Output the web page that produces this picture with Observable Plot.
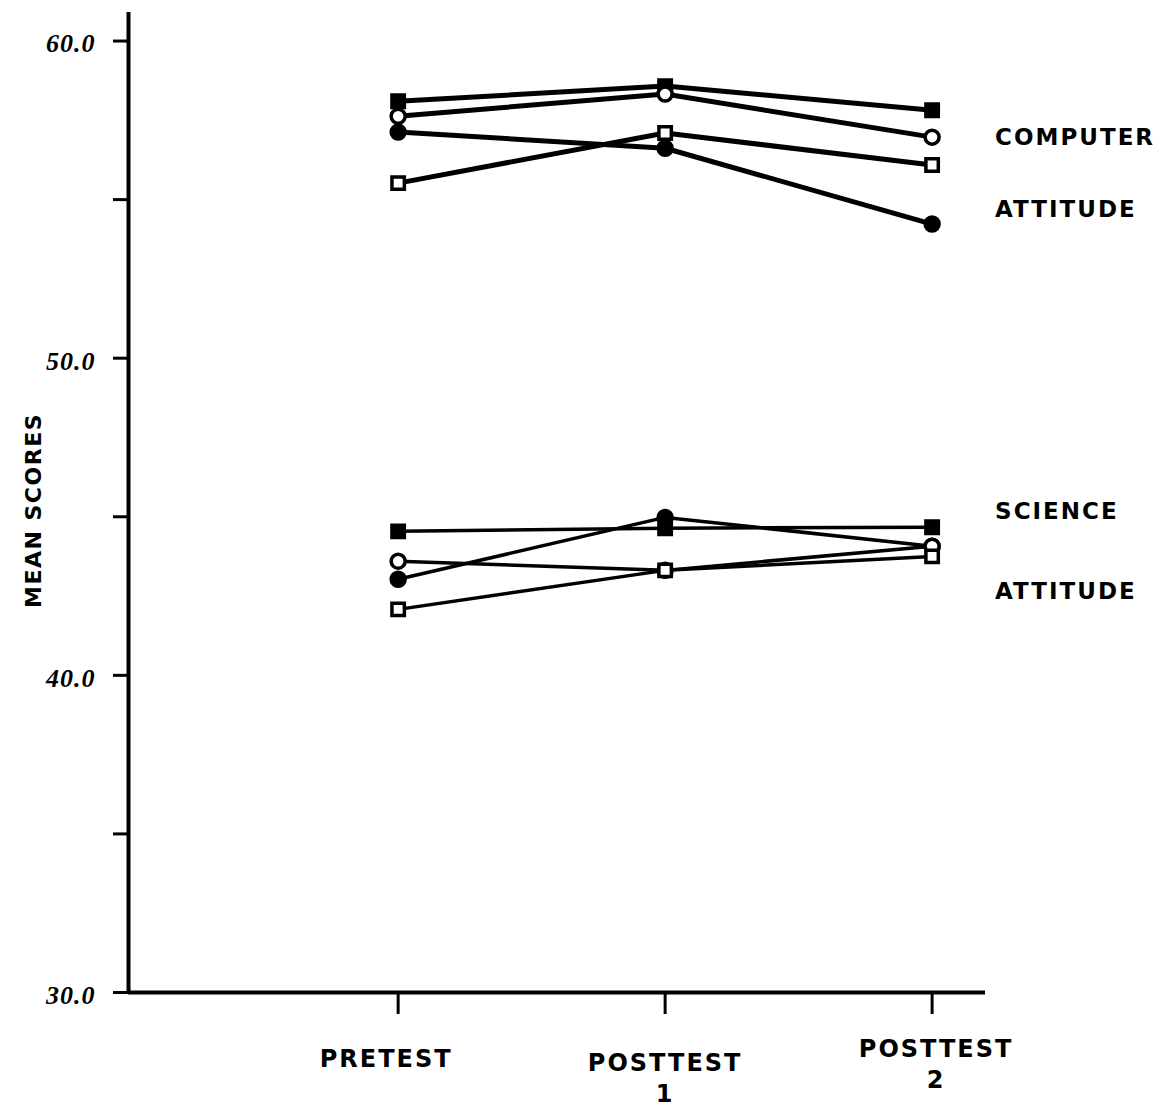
<!DOCTYPE html>
<html><head><meta charset="utf-8">
<script src="https://cdn.jsdelivr.net/npm/d3@7"></script>
<script src="https://cdn.jsdelivr.net/npm/@observablehq/plot@0.6"></script>
<style>
body{margin:0;background:#fff}
#chart svg{display:block}
.wide text{letter-spacing:2px}
.wide1 text{letter-spacing:1.5px}
.ylab text{letter-spacing:1px}
</style>
</head><body><div id="chart"></div>
<script>
// Test occasions (x = 0, 1, 2)
const phases = ["PRETEST", "POSTTEST 1", "POSTTEST 2"];
const phaseLabels = ["PRETEST", "POSTTEST\n1", "POSTTEST\n2"];

// Computer attitude groups
const computerFilledSquare = [58.10, 58.58, 57.82];
const computerOpenCircle   = [57.63, 58.33, 56.97];
const computerFilledCircle = [57.13, 56.62, 54.23];
const computerOpenSquare   = [55.52, 57.10, 56.09];

// Science attitude groups
const scienceFilledSquare = [44.54, 44.64, 44.67];
const scienceFilledCircle = [43.03, 44.98, 44.07];
const scienceOpenCircle   = [43.60, 43.31, 44.07];
const scienceOpenSquare   = [42.08, 43.31, 43.75];

const yTicks = [30, 35, 40, 45, 50, 55, 60];
const yTickLabels = [30, 40, 50, 60];

// Right-hand group labels (text, y in score units)
const groupLabelText = ["COMPUTER", "ATTITUDE", "SCIENCE", "ATTITUDE"];
const groupLabelY = [56.94, 54.70, 45.17, 42.65];

const seriesDefs = [
  {name: "computer-fs", group: "computer", symbol: "square", filled: true,  values: computerFilledSquare},
  {name: "computer-oc", group: "computer", symbol: "circle", filled: false, values: computerOpenCircle},
  {name: "computer-fc", group: "computer", symbol: "circle", filled: true,  values: computerFilledCircle},
  {name: "computer-os", group: "computer", symbol: "square", filled: false, values: computerOpenSquare},
  {name: "science-fs",  group: "science",  symbol: "square", filled: true,  values: scienceFilledSquare},
  {name: "science-fc",  group: "science",  symbol: "circle", filled: true,  values: scienceFilledCircle},
  {name: "science-oc",  group: "science",  symbol: "circle", filled: false, values: scienceOpenCircle},
  {name: "science-os",  group: "science",  symbol: "square", filled: false, values: scienceOpenSquare}
];
const rows = seriesDefs.flatMap(s => s.values.map((v, i) => ({
  series: s.name, group: s.group, symbol: s.symbol, filled: s.filled, t: i, phase: phases[i], score: v
})));
const labels = groupLabelText.map((t, i) => ({text: t, y: groupLabelY[i], x: 2}));

const font = "'DejaVu Sans', sans-serif";
const xMin = -1.01, xMax = 2.2, yMin = 30, yMax = 60.9;

const labelDy = [52, 56, 42];
const labelDx = [-12, 0, 4];

const chart = Plot.plot({
  width: 1160,
  height: 1110,
  marginTop: 12,
  marginBottom: 118,
  marginLeft: 128,
  marginRight: 175,
  x: {type: "linear", domain: [xMin, xMax], axis: null},
  y: {type: "linear", domain: [yMin, yMax], axis: null},
  style: {fontFamily: font, background: "#fff", color: "#000"},
  marks: [
    // y axis ticks
    Plot.axisY({
      ticks: yTicks, tickSize: 15, strokeWidth: 3,
      tickFormat: () => "", label: null, anchor: "left"
    }),
    // y tick labels
    Plot.text(yTickLabels, {
      x: xMin, y: d => d, text: d => d.toFixed(1), textAnchor: "end", dx: -33, dy: 3,
      fontSize: 26, fontStyle: "italic", fontWeight: "bold",
      fontFamily: "'Liberation Serif', serif", className: "ylab"
    }),
    // axis lines
    Plot.ruleX([xMin], {y1: yMin, y2: yMax, strokeWidth: 4}),
    Plot.ruleY([yMin], {x1: xMin, x2: xMax, strokeWidth: 4}),
    // x ticks
    Plot.axisX({ticks: [0, 1, 2], tickSize: 22, strokeWidth: 3, tickFormat: () => "", label: null, anchor: "bottom"}),
    // x tick labels
    ...phaseLabels.map((lab, i) => Plot.text([i], {
      x: d => d, frameAnchor: "bottom", text: () => lab, dy: labelDy[i], dx: labelDx[i],
      fontSize: 24, fontWeight: "bold", lineHeight: 1.3, lineAnchor: "top",
      className: "wide"
    })),
    // y axis title
    Plot.text(["MEAN SCORES"], {
      frameAnchor: "left", textAnchor: "middle", dx: -95, dy: 8, rotate: -90,
      fontSize: 22, fontWeight: "bold", className: "wide1"
    }),
    // series lines
    Plot.line(rows, {
      x: "t", y: "score", z: "series", stroke: "#000",
      strokeWidth: d => d.group === "computer" ? 5 : 3.5
    }),
    // markers
    Plot.dot(rows, {
      x: "t", y: "score", symbol: "symbol", r: 7,
      fill: d => d.filled ? "#000" : "#fff", stroke: "#000", strokeWidth: 3.5
    }),
    // group labels
    Plot.text(labels, {
      x: "x", y: "y", text: "text", textAnchor: "start", dx: 63,
      fontSize: 23, fontWeight: "bold", className: "wide"
    })
  ]
});
document.getElementById("chart").appendChild(chart);
</script>
</body></html>
